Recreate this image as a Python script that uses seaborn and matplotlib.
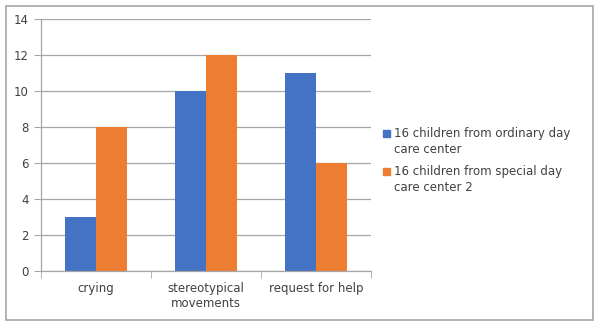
import matplotlib
matplotlib.use("Agg")
import matplotlib.pyplot as plt
from matplotlib.patches import Rectangle
from matplotlib.legend_handler import HandlerPatch
import seaborn as sns
import pandas as pd

categories = ["crying", "stereotypical\nmovements", "request for help"]
series_names = ["16 children from ordinary day\ncare center",
                "16 children from special day\ncare center 2"]
ordinary = [3, 10, 11]
special = [8, 12, 6]
colors = ["#4472C4", "#ED7D31"]

df = pd.DataFrame({
    "category": categories * 2,
    "group": [series_names[0]] * 3 + [series_names[1]] * 3,
    "value": ordinary + special,
})

sns.set_style("white")
plt.rcParams["font.family"] = ["DejaVu Sans"]
text_color = "#404040"

fig = plt.figure(figsize=(6, 3.27), dpi=100)
ax = fig.add_axes([41 / 600, 56 / 327, 330 / 600, 252 / 327])

sns.barplot(data=df, x="category", y="value", hue="group", palette=colors,
            width=0.56, saturation=1, linewidth=0, ax=ax, legend=False)

ax.set_xlim(-0.5, 2.5)
ax.set_ylim(0, 14)
ax.set_yticks(range(0, 15, 2))
ax.set_xlabel("")
ax.set_ylabel("")
ax.set_axisbelow(True)
ax.yaxis.grid(True, color="#a6a6a6", linewidth=0.9)
for s in ["top", "right"]:
    ax.spines[s].set_visible(False)
for s in ["left", "bottom"]:
    ax.spines[s].set_color("#a6a6a6")
    ax.spines[s].set_linewidth(0.9)

ax.tick_params(axis="y", left=True, length=5, color="#a6a6a6", labelsize=8.5,
               labelcolor=text_color, pad=4)
ax.tick_params(axis="x", which="major", length=0, labelsize=8.5,
               labelcolor=text_color, pad=8)
ax.set_xticks([-0.5, 0.5, 1.5, 2.5], minor=True)
ax.tick_params(axis="x", which="minor", bottom=True, length=5, color="#a6a6a6")


# put the legend square next to the first text line, like Excel does
def top_square(legend, orig_handle, xdescent, ydescent, width, height, fontsize):
    return Rectangle((-xdescent, -ydescent + 0.75 * fontsize), width, height)


handles = [Rectangle((0, 0), 1, 1, color=c) for c in colors]
leg = fig.legend(handles, series_names, loc="upper left",
                 bbox_to_anchor=(372 / 600, 1 - 116 / 327), frameon=False,
                 fontsize=8.5, labelcolor=text_color, handlelength=0.6,
                 handleheight=0.6, handletextpad=0.4, labelspacing=0.75,
                 handler_map={Rectangle: HandlerPatch(patch_func=top_square)})
plt.setp(leg.get_texts(), linespacing=1.35)

fig.patches.append(Rectangle((6 / 600, 7 / 327), 587 / 600, 314 / 327,
                             transform=fig.transFigure, fill=False,
                             edgecolor="#a6a6a6", linewidth=1.2))

fig.savefig("out.png", dpi=100)
